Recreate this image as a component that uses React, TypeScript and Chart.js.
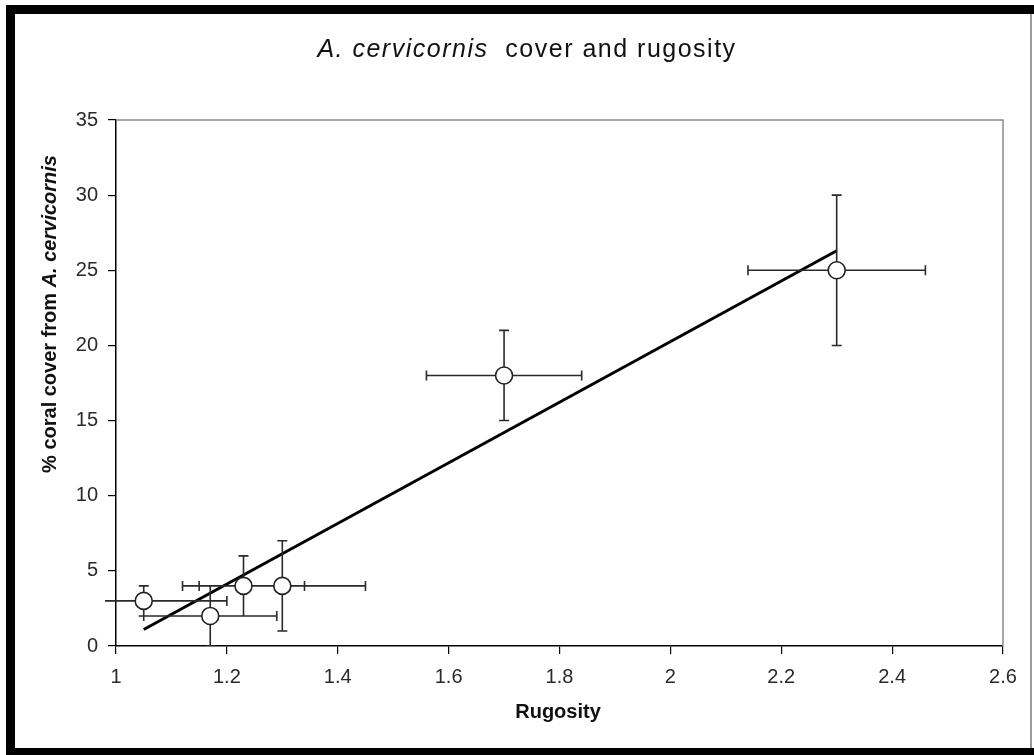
import React, { useEffect, useRef } from "react";
import { Chart, registerables } from "chart.js";

Chart.register(...registerables);

// ---- data ----
const rugosity = [1.05, 1.17, 1.23, 1.3, 1.7, 2.3];
const coralCover = [3, 2, 4, 4, 18, 25];
const rugosityErr = [0.15, 0.12, 0.11, 0.15, 0.14, 0.16];
const coverErr = [1, 2, 2, 3, 3, 5];
const trendRugosity = [1.05, 2.3];
const trendCover = [1.1, 26.3];
const xRange = [1, 2.6];
const yRange = [0, 35];
const xStep = 0.2;
const yStep = 5;

const titleItalic = "A. cervicornis";
const titleRest = "  cover and rugosity";
const yLabelPlain = "% coral cover from ";
const yLabelItalic = "A. cervicornis";
const xLabel = "Rugosity";

const FONT = "'Liberation Sans', Arial, sans-serif";

const framePlugin = {
  id: "frame",
  beforeDraw(chart: any) {
    const ctx = chart.ctx as CanvasRenderingContext2D;
    const { width, height } = chart;
    ctx.save();
    ctx.fillStyle = "#ffffff";
    ctx.fillRect(0, 0, width, height);
    ctx.fillStyle = "#000000";
    ctx.fillRect(6, 5, width - 6, 9); // top bar
    ctx.fillRect(6, 5, 9, height - 5); // left bar
    ctx.fillRect(6, 748, width - 6, height - 748); // bottom bar
    ctx.fillStyle = "#9a9a9a";
    ctx.fillRect(1030, 14, 2, 734);
    ctx.restore();
  },
  afterDraw(chart: any) {
    const ctx = chart.ctx as CanvasRenderingContext2D;
    const ca = chart.chartArea;
    ctx.save();
    // gray top/right border of plot area
    ctx.strokeStyle = "#8c8c8c";
    ctx.lineWidth = 1.5;
    ctx.beginPath();
    ctx.moveTo(ca.left, ca.top);
    ctx.lineTo(ca.right, ca.top);
    ctx.lineTo(ca.right, ca.bottom);
    ctx.stroke();

    // title
    ctx.fillStyle = "#111";
    ctx.textBaseline = "alphabetic";
    ctx.textAlign = "left";
    (ctx as any).letterSpacing = "1.5px";
    ctx.font = `italic 25px ${FONT}`;
    const w1 = ctx.measureText(titleItalic).width;
    ctx.font = `25px ${FONT}`;
    const w2 = ctx.measureText(titleRest).width;
    const tx = 527 - (w1 + w2) / 2;
    ctx.font = `italic 25px ${FONT}`;
    ctx.fillText(titleItalic, tx, 57);
    ctx.font = `25px ${FONT}`;
    ctx.fillText(titleRest, tx + w1, 57);
    (ctx as any).letterSpacing = "0px";

    // x axis label
    ctx.font = `bold 20px ${FONT}`;
    ctx.textAlign = "center";
    ctx.fillText(xLabel, 558, 718);

    // y axis label (rotated)
    ctx.translate(56, 314);
    ctx.rotate(-Math.PI / 2);
    ctx.textAlign = "left";
    ctx.font = `bold 20px ${FONT}`;
    const a = ctx.measureText(yLabelPlain).width;
    ctx.font = `italic bold 20px ${FONT}`;
    const b = ctx.measureText(yLabelItalic).width;
    const sx = -(a + b) / 2;
    ctx.font = `bold 20px ${FONT}`;
    ctx.fillText(yLabelPlain, sx, 0);
    ctx.font = `italic bold 20px ${FONT}`;
    ctx.fillText(yLabelItalic, sx + a, 0);
    ctx.restore();
  },
};

const errorBarPlugin = {
  id: "errorBars",
  beforeDatasetDraw(chart: any, args: any) {
    if (args.index !== 0) return;
    const ctx = chart.ctx as CanvasRenderingContext2D;
    const xs = chart.scales.x;
    const ys = chart.scales.y;
    const ca = chart.chartArea;
    const cap = 5;
    ctx.save();
    ctx.beginPath();
    ctx.rect(ca.left - 11, ca.top - 20, ca.right - ca.left + 31, ca.bottom - ca.top + 20);
    ctx.clip();
    ctx.strokeStyle = "#2a2a2a";
    ctx.lineWidth = 1.6;
    ctx.beginPath();
    for (let i = 0; i < rugosity.length; i++) {
      const cx = xs.getPixelForValue(rugosity[i]);
      const cy = ys.getPixelForValue(coralCover[i]);
      const x0 = xs.getPixelForValue(rugosity[i] - rugosityErr[i]);
      const x1 = xs.getPixelForValue(rugosity[i] + rugosityErr[i]);
      const y0 = ys.getPixelForValue(coralCover[i] - coverErr[i]);
      const y1 = ys.getPixelForValue(coralCover[i] + coverErr[i]);
      ctx.moveTo(x0, cy);
      ctx.lineTo(x1, cy);
      ctx.moveTo(x0, cy - cap);
      ctx.lineTo(x0, cy + cap);
      ctx.moveTo(x1, cy - cap);
      ctx.lineTo(x1, cy + cap);
      ctx.moveTo(cx, y0);
      ctx.lineTo(cx, y1);
      ctx.moveTo(cx - cap, y0);
      ctx.lineTo(cx + cap, y0);
      ctx.moveTo(cx - cap, y1);
      ctx.lineTo(cx + cap, y1);
    }
    ctx.stroke();
    ctx.restore();
  },
};

export default function App() {
  const ref = useRef<HTMLCanvasElement | null>(null);
  useEffect(() => {
    if (!ref.current) return;
    const chart = new Chart(ref.current, {
      type: "scatter",
      data: {
        datasets: [
          {
            label: "cover",
            data: rugosity.map((x, i) => ({ x, y: coralCover[i] })),
            pointRadius: 8.5,
            pointHoverRadius: 8.5,
            pointBorderWidth: 1.6,
            borderColor: "#222",
            backgroundColor: "#ffffff",
            showLine: false,
            order: 0,
            clip: false as any,
          },
          {
            label: "trend",
            type: "line" as any,
            data: trendRugosity.map((x, i) => ({ x, y: trendCover[i] })),
            borderColor: "#000",
            borderWidth: 3,
            pointRadius: 0,
            showLine: true,
            fill: false,
            order: 1,
          },
        ],
      },
      options: {
        responsive: false,
        animation: false,
        devicePixelRatio: 1,
        layout: { padding: { top: 120, right: 31, left: 0, bottom: 0 } },
        plugins: {
          legend: { display: false },
          title: { display: false },
          tooltip: { enabled: false },
        },
        events: [],
        scales: {
          x: {
            type: "linear",
            min: xRange[0],
            max: xRange[1],
            afterFit(scale: any) {
              scale.height = 109;
            },
            ticks: {
              stepSize: xStep,
              autoSkip: false,
              maxRotation: 0,
              padding: 11,
              color: "#2a2a2a",
              font: { family: FONT, size: 20 },
              callback: (v: any) => String(Math.round(Number(v) * 10) / 10),
            },
            grid: {
              display: true,
              drawOnChartArea: false,
              drawTicks: true,
              tickLength: 8,
              color: "#000",
              lineWidth: 1.2,
            },
            border: { display: true, color: "#000", width: 1.5 },
          },
          y: {
            type: "linear",
            min: yRange[0],
            max: yRange[1],
            afterFit(scale: any) {
              scale.width = 116;
            },
            ticks: {
              stepSize: yStep,
              autoSkip: false,
              padding: 10,
              color: "#2a2a2a",
              font: { family: FONT, size: 20 },
            },
            grid: {
              display: true,
              drawOnChartArea: false,
              drawTicks: true,
              tickLength: 8,
              color: "#000",
              lineWidth: 1.2,
            },
            border: { display: true, color: "#000", width: 1.5 },
          },
        },
      },
      plugins: [framePlugin, errorBarPlugin],
    });
    return () => chart.destroy();
  }, []);

  return (
    <div
      style={{
        position: "fixed",
        left: 0,
        top: 0,
        width: 1034,
        height: 755,
        background: "#fff",
      }}
    >
      <canvas ref={ref} width={1034} height={755} style={{ display: "block" }} />
    </div>
  );
}
